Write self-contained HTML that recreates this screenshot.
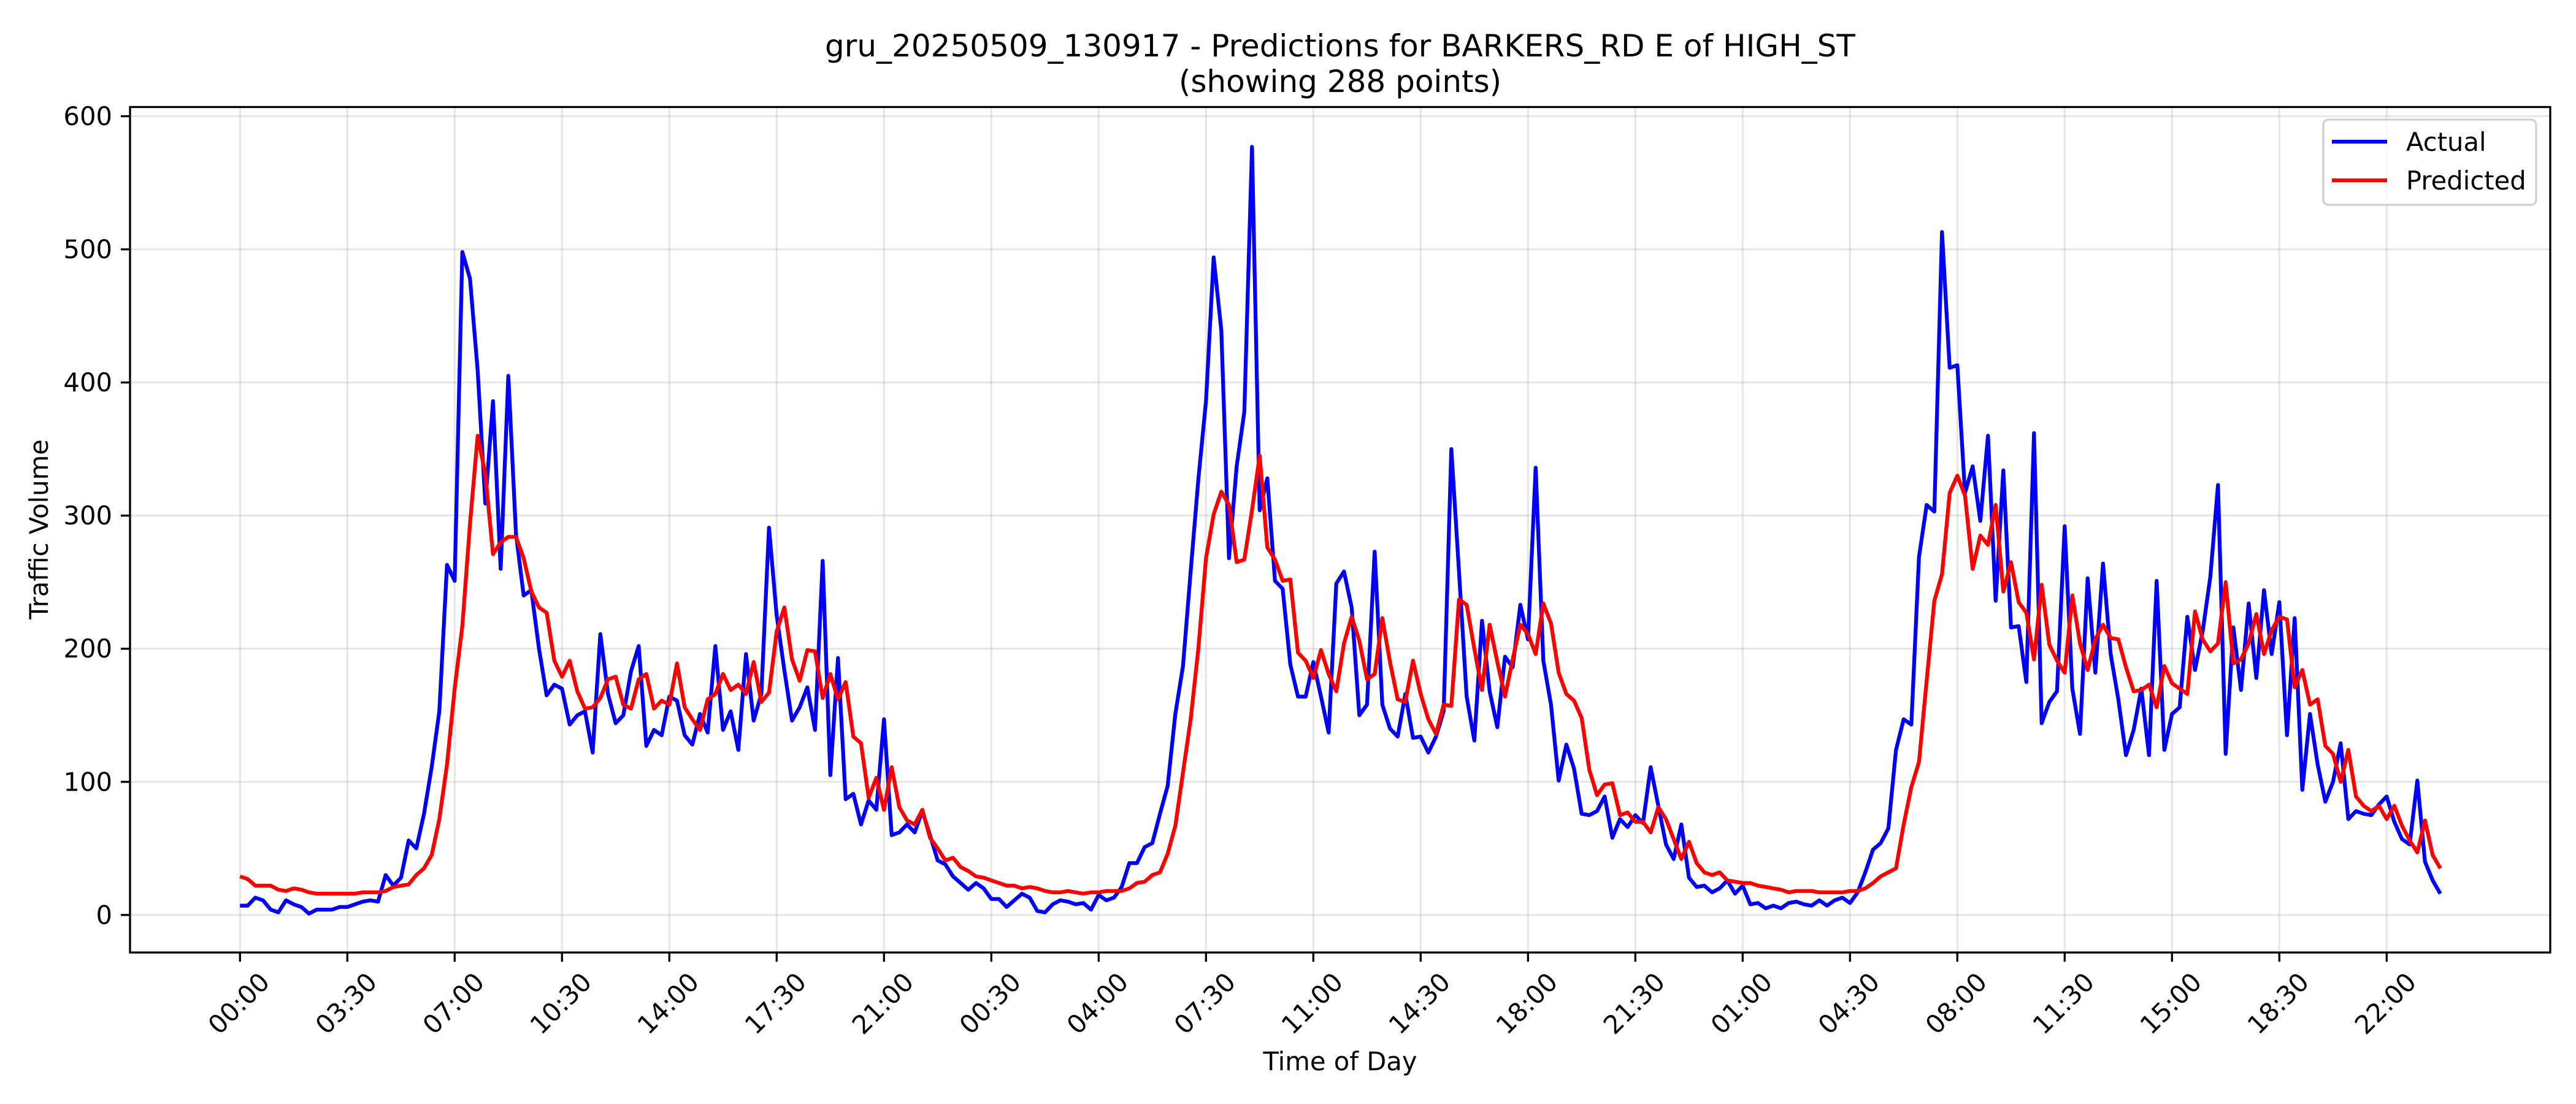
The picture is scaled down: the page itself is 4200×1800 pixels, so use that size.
<!DOCTYPE html>
<html><head><meta charset="utf-8"><style>
html,body{margin:0;padding:0;background:#fff;}
svg{display:block;font-family:"DejaVu Sans","Liberation Sans",sans-serif;}
</style></head><body>
<svg id="chart" xmlns="http://www.w3.org/2000/svg" width="4200" height="1800" viewBox="0 0 4200 1800">
<rect x="0" y="0" width="4200" height="1800" fill="#fff"/>
<g id="grid"></g>
<g id="series"></g>
<rect x="212" y="174.5" width="3946" height="1378.5" fill="none" stroke="#000" stroke-width="3.3"/>
<g id="ticks"></g>
<text x="2185" y="92" font-size="50" text-anchor="middle">gru_20250509_130917 - Predictions for BARKERS_RD E of HIGH_ST</text>
<text x="2185" y="150" font-size="50" text-anchor="middle">(showing 288 points)</text>
<text x="2185" y="1745" font-size="41.7" text-anchor="middle">Time of Day</text>
<text x="0" y="0" font-size="41.7" text-anchor="middle" transform="translate(78,863) rotate(-90)">Traffic Volume</text>
<g>
<rect x="3788" y="195" width="347" height="139" rx="8" fill="#fff" fill-opacity="0.8" stroke="#d0d0d0" stroke-width="3.3"/>
<line x1="3802" y1="231" x2="3892" y2="231" stroke="#0000ff" stroke-width="6.25"/>
<text x="3923" y="246" font-size="41.7">Actual</text>
<line x1="3802" y1="294" x2="3892" y2="294" stroke="#ff0000" stroke-width="6.25"/>
<text x="3923" y="309" font-size="41.7">Predicted</text>
</g>
</svg>
<script>
const actualValues = [7,7,13,11,4,2,11,8,6,1,4,4,4,6,6,8,10,11,10,30,22,28,56,50,76,111,153,263,251,498,478,409,309,386,260,405,
286,240,244,200,165,173,170,143,150,153,122,211,166,144,150,183,202,127,139,135,164,161,135,128,151,137,202,139,153,124,196,146,166,291,
225,184,146,156,171,139,266,105,193,87,91,68,86,79,147,60,62,68,62,78,60,41,38,29,24,19,24,20,12,12,6,11,16,13,3,2,8,
11,10,8,9,4,15,11,13,21,39,39,51,54,76,97,151,187,258,327,386,494,439,268,337,378,577,304,328,251,245,188,164,164,
190,164,137,249,258,231,150,158,273,158,140,134,166,133,134,122,134,153,350,258,164,131,221,168,141,194,186,233,207,336,191,158,101,128,110,76,75,
78,89,58,72,66,75,69,111,82,53,42,68,28,21,22,17,20,26,16,22,8,9,5,7,5,9,10,8,7,11,7,11,13,9,17,32,49,
54,65,124,147,143,269,308,303,513,411,413,317,337,296,360,236,334,216,217,175,362,144,160,168,292,170,136,253,182,264,196,162,120,139,170,120,251,124,
151,156,224,184,213,254,323,121,216,169,234,178,244,196,235,135,223,94,151,113,85,100,129,72,78,76,75,83,89,70,57,53,101,40,26,16];
const predictedValues = [29,27,22,22,22,19,18,20,19,17,16,16,16,16,16,16,17,17,17,18,21,22,23,30,35,45,72,113,170,217,294,360,331,271,280,284,
284,268,243,231,227,191,179,191,168,155,156,163,177,179,158,155,177,181,155,161,158,189,156,147,139,162,166,181,169,173,166,190,160,167,
213,231,192,176,199,198,163,181,162,175,134,129,88,103,79,111,81,71,68,79,58,50,41,43,36,33,29,28,26,24,22,22,20,21,20,18,17,
17,18,17,16,17,17,18,18,18,20,24,25,30,32,46,67,107,147,200,268,301,318,308,265,267,304,345,276,267,251,252,197,191,
178,199,181,168,204,224,206,177,181,223,190,162,160,191,166,147,136,158,157,237,233,200,169,218,190,164,192,218,211,196,234,219,182,166,161,148,109,
90,98,99,75,77,70,70,62,81,72,57,42,55,39,32,30,32,26,25,24,24,22,21,20,19,17,18,18,18,17,17,17,17,18,18,20,24,
29,32,35,68,96,115,176,236,256,317,330,315,260,285,278,308,243,265,235,227,192,248,203,191,182,240,204,184,207,218,208,207,186,168,169,173,156,187,
174,170,166,228,207,198,204,250,189,192,204,226,196,214,224,222,171,184,158,162,127,121,100,124,89,82,78,82,72,82,67,56,47,71,45,35];
const xTickLabels = ["00:00","03:30","07:00","10:30","14:00","17:30","21:00","00:30","04:00","07:30","11:00","14:30","18:00","21:30","01:00","04:30","08:00","11:30","15:00","18:30","22:00"];
const xTickIndices = [0,14,28,42,56,70,84,98,112,126,140,154,168,182,196,210,224,238,252,266,280];
const yTickValues = [0,100,200,300,400,500,600];

const NS = "http://www.w3.org/2000/svg";
function xScale(i){ return 391.3 + i * 12.5; }
function yScale(v){ return 1491.8 - v * 2.1705; }
function mk(tag, attrs, parent){
  const e = document.createElementNS(NS, tag);
  for (const k in attrs) e.setAttribute(k, attrs[k]);
  parent.appendChild(e);
  return e;
}
const grid = document.getElementById('grid');
const ticks = document.getElementById('ticks');
const series = document.getElementById('series');

yTickValues.forEach(v => {
  const y = yScale(v);
  const g = mk('line', {x1:212, x2:4158, y1:y, y2:y, stroke:'#b0b0b0', 'stroke-opacity':0.3, 'stroke-width':3.3}, grid);
  
  
  const t = mk('line', {x1:197, x2:212, y1:y, y2:y, stroke:'#000', 'stroke-width':3.3}, ticks);
  
  
  const lb = mk('text', {x:183, y:y, 'font-size':41.7, 'text-anchor':'end', 'dominant-baseline':'central'}, ticks);
  lb.textContent = String(v);
  
  
});

xTickIndices.forEach((idx, k) => {
  const x = xScale(idx);
  const g = mk('line', {x1:x, x2:x, y1:174, y2:1553, stroke:'#b0b0b0', 'stroke-opacity':0.3, 'stroke-width':3.3}, grid);
  
  
  const t = mk('line', {x1:x, x2:x, y1:1553, y2:1568, stroke:'#000', 'stroke-width':3.3}, ticks);
  
  
  const cy = 1636;
  const lb = mk('text', {x:x - 2, y:cy, 'font-size':41.7, 'text-anchor':'middle', 'dominant-baseline':'central', transform:'rotate(-45 ' + (x - 2) + ' ' + cy + ')'}, ticks);
  lb.textContent = xTickLabels[k];
  
  
});

function pathFor(vals){
  return vals.map((v, i) => (i ? 'L' : 'M') + xScale(i).toFixed(1) + ' ' + yScale(v).toFixed(1)).join(' ');
}
const pa = mk('path', {d:pathFor(actualValues), fill:'none', stroke:'#0000ff', 'stroke-width':6.25, 'stroke-linejoin':'round'}, series);


const pp = mk('path', {d:pathFor(predictedValues), fill:'none', stroke:'#ff0000', 'stroke-width':6.25, 'stroke-linejoin':'round'}, series);


</script>
</body></html>
